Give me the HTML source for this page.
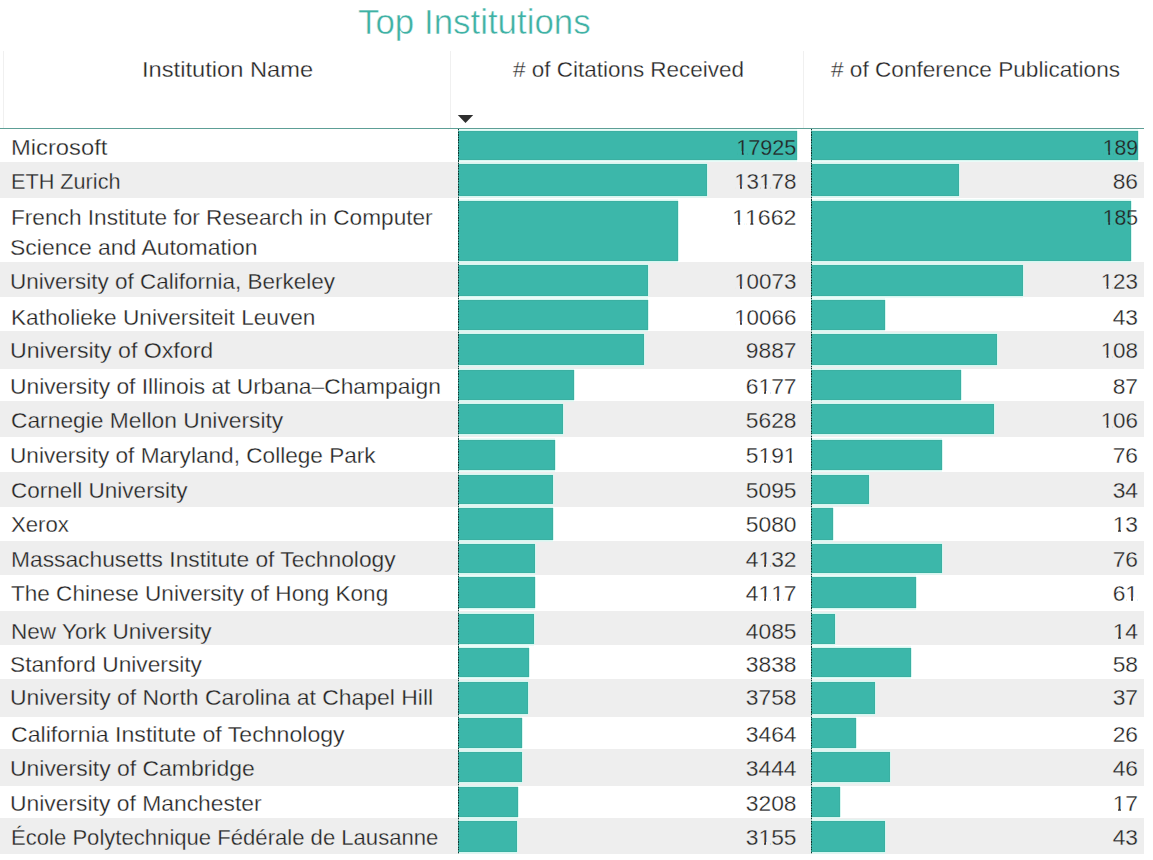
<!DOCTYPE html>
<html><head><meta charset="utf-8"><style>
html,body{margin:0;padding:0;background:#fff;}
body{width:1153px;height:860px;position:relative;overflow:hidden;font-family:"Liberation Sans",sans-serif;color:#232323;}
.a{position:absolute;}
.o{font-style:normal;position:relative;}
.o::before,.o::after{content:"";position:absolute;bottom:4.6px;height:4.0px;background:var(--bg);}
.o::before{left:1.2px;width:4.35px;}
.o::after{left:7.95px;width:4.1px;}
.t{position:absolute;white-space:nowrap;font-size:22.8px;line-height:22.8px;}
.row{position:absolute;left:0;width:1144px;}
.g{background:#eeeeee;}
.bar{position:absolute;background:#3cb7aa;box-shadow:inset 0 1px 0 #3bb0a2,inset 0 -1px 0 #3bb0a2,inset -1px 0 0 #3bb0a2,0 -1.5px 0 #d6f7f1,0 1.5px 0 #d6f7f1,1px 0 0 #d6f7f1;}
.vl{position:absolute;width:1px;background:#f0f0f0;top:51px;height:77px;}
.ax{position:absolute;width:1px;top:129px;height:724.5px;background:repeating-linear-gradient(to bottom,#0d3a33 0,#0d3a33 1.3px,rgba(10,50,45,0.3) 1.3px,rgba(10,50,45,0.3) 2.6px);}
</style></head><body>

<div class="t" id="title" style="left:358.28px;top:4.69px;font-size:34.5px;line-height:34.5px;color:#3fb1a4;-webkit-text-stroke:0.5px #fff;transform-origin:0 0;transform:scaleX(1.0111)">Top Institutions</div>
<div class="vl" style="left:3px"></div>
<div class="vl" style="left:450px"></div>
<div class="vl" style="left:803px"></div>
<div class="t" id="h1" style="-webkit-text-stroke:0.3px #fff;left:141.81px;top:57.60px;transform-origin:0 0;transform:scaleX(1.0385)">Institution Name</div>
<div class="t" id="h2" style="-webkit-text-stroke:0.3px #fff;left:512.57px;top:57.60px;transform-origin:0 0;transform:scaleX(0.9854)"># of Citations Received</div>
<div class="t" id="h3" style="-webkit-text-stroke:0.3px #fff;left:830.65px;top:57.60px;transform-origin:0 0;transform:scaleX(0.9917)"># of Conference Publications</div>
<svg class="a" style="left:0;top:0" width="1153" height="140"><polygon points="457.8,115 473.2,115 465.5,123" fill="#2e2e2e"/></svg>
<div class="a" style="left:0;top:128px;width:1144px;height:1px;background:#5d9f96"></div>
<div class="row" style="top:129px;height:33px"></div>
<div class="row g" style="top:162px;height:36px"></div>
<div class="row" style="top:198px;height:64px"></div>
<div class="row g" style="top:262px;height:35px"></div>
<div class="row" style="top:297px;height:34px"></div>
<div class="row g" style="top:331px;height:37.5px"></div>
<div class="row" style="top:368.5px;height:32.5px"></div>
<div class="row g" style="top:401px;height:35.5px"></div>
<div class="row" style="top:436.5px;height:35.5px"></div>
<div class="row g" style="top:472px;height:34.5px"></div>
<div class="row" style="top:506.5px;height:34.5px"></div>
<div class="row g" style="top:541px;height:34px"></div>
<div class="row" style="top:575px;height:36px"></div>
<div class="row g" style="top:611px;height:34px"></div>
<div class="row" style="top:645px;height:34px"></div>
<div class="row g" style="top:679px;height:37.5px"></div>
<div class="row" style="top:716.5px;height:32.5px"></div>
<div class="row g" style="top:749px;height:36.5px"></div>
<div class="row" style="top:785.5px;height:32.5px"></div>
<div class="row g" style="top:818px;height:35.5px"></div>
<div class="bar" style="left:458px;top:131px;width:339.00px;height:29px"></div>
<div class="bar" style="left:811px;top:131px;width:326.70px;height:29px"></div>
<div class="bar" style="left:458px;top:164px;width:248.85px;height:32px"></div>
<div class="bar" style="left:811px;top:164px;width:148.38px;height:32px"></div>
<div class="bar" style="left:458px;top:201px;width:220.06px;height:60px"></div>
<div class="bar" style="left:811px;top:201px;width:319.78px;height:60px"></div>
<div class="bar" style="left:458px;top:265px;width:189.89px;height:31px"></div>
<div class="bar" style="left:811px;top:265px;width:212.44px;height:31px"></div>
<div class="bar" style="left:458px;top:300px;width:189.76px;height:29.5px"></div>
<div class="bar" style="left:811px;top:300px;width:73.94px;height:29.5px"></div>
<div class="bar" style="left:458px;top:334px;width:186.36px;height:31px"></div>
<div class="bar" style="left:811px;top:334px;width:186.47px;height:31px"></div>
<div class="bar" style="left:458px;top:370px;width:115.90px;height:29.5px"></div>
<div class="bar" style="left:811px;top:370px;width:150.12px;height:29.5px"></div>
<div class="bar" style="left:458px;top:404px;width:105.48px;height:30px"></div>
<div class="bar" style="left:811px;top:404px;width:183.01px;height:30px"></div>
<div class="bar" style="left:458px;top:440px;width:97.18px;height:30px"></div>
<div class="bar" style="left:811px;top:440px;width:131.07px;height:30px"></div>
<div class="bar" style="left:458px;top:475px;width:95.36px;height:29px"></div>
<div class="bar" style="left:811px;top:475px;width:58.36px;height:29px"></div>
<div class="bar" style="left:458px;top:508px;width:95.07px;height:31.5px"></div>
<div class="bar" style="left:811px;top:508px;width:22.01px;height:31.5px"></div>
<div class="bar" style="left:458px;top:544px;width:77.07px;height:29px"></div>
<div class="bar" style="left:811px;top:544px;width:131.07px;height:29px"></div>
<div class="bar" style="left:458px;top:577px;width:76.78px;height:31px"></div>
<div class="bar" style="left:811px;top:577px;width:105.10px;height:31px"></div>
<div class="bar" style="left:458px;top:614px;width:76.18px;height:30px"></div>
<div class="bar" style="left:811px;top:614px;width:23.74px;height:30px"></div>
<div class="bar" style="left:458px;top:648px;width:71.48px;height:29px"></div>
<div class="bar" style="left:811px;top:648px;width:99.91px;height:29px"></div>
<div class="bar" style="left:458px;top:682px;width:69.97px;height:31.5px"></div>
<div class="bar" style="left:811px;top:682px;width:63.56px;height:31.5px"></div>
<div class="bar" style="left:458px;top:718px;width:64.38px;height:29.5px"></div>
<div class="bar" style="left:811px;top:718px;width:44.51px;height:29.5px"></div>
<div class="bar" style="left:458px;top:752px;width:64.00px;height:30px"></div>
<div class="bar" style="left:811px;top:752px;width:79.14px;height:30px"></div>
<div class="bar" style="left:458px;top:787px;width:59.52px;height:29.5px"></div>
<div class="bar" style="left:811px;top:787px;width:28.93px;height:29.5px"></div>
<div class="bar" style="left:458px;top:821px;width:58.51px;height:31px"></div>
<div class="bar" style="left:811px;top:821px;width:73.94px;height:31px"></div>
<div class="ax" style="left:458px"></div><div class="ax" style="left:811px"></div>
<div class="t" id="n0_0" style="-webkit-text-stroke:0.3px #fff;left:10.92px;top:135.70px;transform-origin:0 0;transform:scaleX(1.0422)">Microsoft</div>
<div class="t" id="c0" style="--bg:#3cb7aa;-webkit-text-stroke:0.3px #3cb7aa;right:356.5px;top:135.70px;transform-origin:100% 0;transform:scaleX(0.9504)"><i class="o">1</i>7925</div>
<div class="t" id="p0" style="--bg:#3cb7aa;-webkit-text-stroke:0.3px #3cb7aa;right:15.0px;top:135.70px;transform-origin:100% 0;transform:scaleX(0.9297)"><i class="o">1</i>89</div>
<div class="t" id="n1_0" style="-webkit-text-stroke:0.3px #eeeeee;left:10.70px;top:169.50px;transform-origin:0 0;transform:scaleX(0.9500)">ETH Zurich</div>
<div class="t" id="c1" style="--bg:#eeeeee;-webkit-text-stroke:0.3px #eeeeee;right:356.5px;top:169.50px;transform-origin:100% 0;transform:scaleX(0.9818)"><i class="o">1</i>3<i class="o">1</i>78</div>
<div class="t" id="p1" style="--bg:#eeeeee;-webkit-text-stroke:0.3px #eeeeee;right:15.0px;top:169.50px;transform-origin:100% 0;transform:scaleX(1.0000)">86</div>
<div class="t" id="n2_0" style="-webkit-text-stroke:0.3px #fff;left:10.61px;top:206.40px;transform-origin:0 0;transform:scaleX(0.9934)">French Institute for Research in Computer</div>
<div class="t" id="n2_1" style="-webkit-text-stroke:0.3px #fff;left:9.59px;top:235.80px;transform-origin:0 0;transform:scaleX(1.0066)">Science and Automation</div>
<div class="t" id="c2" style="--bg:#fff;-webkit-text-stroke:0.3px #fff;right:356.5px;top:206.40px;transform-origin:100% 0;transform:scaleX(1.0154)"><i class="o">1</i><i class="o">1</i>662</div>
<div class="a" style="left:0;top:0;width:1153px;height:860px;clip-path:inset(0 22.22px 0 0)"><div class="t" style="--bg:#3cb7aa;-webkit-text-stroke:0.3px #3cb7aa;right:15.0px;top:206.40px;transform-origin:100% 0;transform:scaleX(0.9297)"><i class="o">1</i>85</div></div>
<div class="a" style="left:0;top:0;width:1153px;height:860px;clip-path:inset(0 0 0 1130.78px)"><div class="t" id="p2" style="--bg:#fff;-webkit-text-stroke:0.3px #fff;right:15.0px;top:206.40px;transform-origin:100% 0;transform:scaleX(0.9297)"><i class="o">1</i>85</div></div>
<div class="t" id="n3_0" style="-webkit-text-stroke:0.3px #eeeeee;left:10.03px;top:270.30px;transform-origin:0 0;transform:scaleX(0.9865)">University of California, Berkeley</div>
<div class="t" id="c3" style="--bg:#eeeeee;-webkit-text-stroke:0.3px #eeeeee;right:356.5px;top:270.30px;transform-origin:100% 0;transform:scaleX(0.9818)"><i class="o">1</i>0073</div>
<div class="t" id="p3" style="--bg:#eeeeee;-webkit-text-stroke:0.3px #eeeeee;right:15.0px;top:270.30px;transform-origin:100% 0;transform:scaleX(0.9829)"><i class="o">1</i>23</div>
<div class="t" id="n4_0" style="-webkit-text-stroke:0.3px #fff;left:10.61px;top:305.80px;transform-origin:0 0;transform:scaleX(0.9927)">Katholieke Universiteit Leuven</div>
<div class="t" id="c4" style="--bg:#fff;-webkit-text-stroke:0.3px #fff;right:356.5px;top:305.80px;transform-origin:100% 0;transform:scaleX(0.9818)"><i class="o">1</i>0066</div>
<div class="t" id="p4" style="--bg:#fff;-webkit-text-stroke:0.3px #fff;right:15.0px;top:305.80px;transform-origin:100% 0;transform:scaleX(1.0000)">43</div>
<div class="t" id="n5_0" style="-webkit-text-stroke:0.3px #eeeeee;left:9.97px;top:339.30px;transform-origin:0 0;transform:scaleX(1.0152)">University of Oxford</div>
<div class="t" id="c5" style="--bg:#eeeeee;-webkit-text-stroke:0.3px #eeeeee;right:356.5px;top:339.30px;transform-origin:100% 0;transform:scaleX(1.0000)">9887</div>
<div class="t" id="p5" style="--bg:#eeeeee;-webkit-text-stroke:0.3px #eeeeee;right:15.0px;top:339.30px;transform-origin:100% 0;transform:scaleX(0.9829)"><i class="o">1</i>08</div>
<div class="t" id="n6_0" style="-webkit-text-stroke:0.3px #fff;left:10.00px;top:375.20px;transform-origin:0 0;transform:scaleX(1.0000)">University of Illinois at Urbana–Champaign</div>
<div class="t" id="c6" style="--bg:#fff;-webkit-text-stroke:0.3px #fff;right:356.5px;top:375.20px;transform-origin:100% 0;transform:scaleX(1.0000)">6<i class="o">1</i>77</div>
<div class="t" id="p6" style="--bg:#fff;-webkit-text-stroke:0.3px #fff;right:15.0px;top:375.20px;transform-origin:100% 0;transform:scaleX(1.0000)">87</div>
<div class="t" id="n7_0" style="-webkit-text-stroke:0.3px #eeeeee;left:10.60px;top:409.10px;transform-origin:0 0;transform:scaleX(0.9993)">Carnegie Mellon University</div>
<div class="t" id="c7" style="--bg:#eeeeee;-webkit-text-stroke:0.3px #eeeeee;right:356.5px;top:409.10px;transform-origin:100% 0;transform:scaleX(1.0000)">5628</div>
<div class="t" id="p7" style="--bg:#eeeeee;-webkit-text-stroke:0.3px #eeeeee;right:15.0px;top:409.10px;transform-origin:100% 0;transform:scaleX(0.9829)"><i class="o">1</i>06</div>
<div class="t" id="n8_0" style="-webkit-text-stroke:0.3px #fff;left:10.02px;top:444.30px;transform-origin:0 0;transform:scaleX(0.9918)">University of Maryland, College Park</div>
<div class="t" id="c8" style="--bg:#fff;-webkit-text-stroke:0.3px #fff;right:356.5px;top:444.30px;transform-origin:100% 0;transform:scaleX(1.0000)">5<i class="o">1</i>9<i class="o">1</i></div>
<div class="t" id="p8" style="--bg:#fff;-webkit-text-stroke:0.3px #fff;right:15.0px;top:444.30px;transform-origin:100% 0;transform:scaleX(1.0000)">76</div>
<div class="t" id="n9_0" style="-webkit-text-stroke:0.3px #eeeeee;left:10.61px;top:479.40px;transform-origin:0 0;transform:scaleX(0.9876)">Cornell University</div>
<div class="t" id="c9" style="--bg:#eeeeee;-webkit-text-stroke:0.3px #eeeeee;right:356.5px;top:479.40px;transform-origin:100% 0;transform:scaleX(1.0000)">5095</div>
<div class="t" id="p9" style="--bg:#eeeeee;-webkit-text-stroke:0.3px #eeeeee;right:15.0px;top:479.40px;transform-origin:100% 0;transform:scaleX(1.0000)">34</div>
<div class="t" id="n10_0" style="-webkit-text-stroke:0.3px #fff;left:10.63px;top:513.20px;transform-origin:0 0;transform:scaleX(0.9726)">Xerox</div>
<div class="t" id="c10" style="--bg:#fff;-webkit-text-stroke:0.3px #fff;right:356.5px;top:513.20px;transform-origin:100% 0;transform:scaleX(1.0000)">5080</div>
<div class="t" id="p10" style="--bg:#fff;-webkit-text-stroke:0.3px #fff;right:15.0px;top:513.20px;transform-origin:100% 0;transform:scaleX(1.0000)"><i class="o">1</i>3</div>
<div class="t" id="n11_0" style="-webkit-text-stroke:0.3px #eeeeee;left:10.60px;top:548.40px;transform-origin:0 0;transform:scaleX(0.9995)">Massachusetts Institute of Technology</div>
<div class="t" id="c11" style="--bg:#eeeeee;-webkit-text-stroke:0.3px #eeeeee;right:356.5px;top:548.40px;transform-origin:100% 0;transform:scaleX(1.0000)">4<i class="o">1</i>32</div>
<div class="t" id="p11" style="--bg:#eeeeee;-webkit-text-stroke:0.3px #eeeeee;right:15.0px;top:548.40px;transform-origin:100% 0;transform:scaleX(1.0000)">76</div>
<div class="t" id="n12_0" style="-webkit-text-stroke:0.3px #fff;left:10.61px;top:581.90px;transform-origin:0 0;transform:scaleX(0.9889)">The Chinese University of Hong Kong</div>
<div class="t" id="c12" style="--bg:#fff;-webkit-text-stroke:0.3px #fff;right:356.5px;top:581.90px;transform-origin:100% 0;transform:scaleX(1.0000)">4<i class="o">1</i><i class="o">1</i>7</div>
<div class="t" id="p12" style="--bg:#fff;-webkit-text-stroke:0.3px #fff;right:15.0px;top:581.90px;transform-origin:100% 0;transform:scaleX(1.0000)">6<i class="o">1</i></div>
<div class="t" id="n13_0" style="-webkit-text-stroke:0.3px #eeeeee;left:10.62px;top:619.50px;transform-origin:0 0;transform:scaleX(0.9890)">New York University</div>
<div class="t" id="c13" style="--bg:#eeeeee;-webkit-text-stroke:0.3px #eeeeee;right:356.5px;top:619.50px;transform-origin:100% 0;transform:scaleX(1.0000)">4085</div>
<div class="t" id="p13" style="--bg:#eeeeee;-webkit-text-stroke:0.3px #eeeeee;right:15.0px;top:619.50px;transform-origin:100% 0;transform:scaleX(1.0000)"><i class="o">1</i>4</div>
<div class="t" id="n14_0" style="-webkit-text-stroke:0.3px #fff;left:9.60px;top:653.40px;transform-origin:0 0;transform:scaleX(0.9969)">Stanford University</div>
<div class="t" id="c14" style="--bg:#fff;-webkit-text-stroke:0.3px #fff;right:356.5px;top:653.40px;transform-origin:100% 0;transform:scaleX(1.0000)">3838</div>
<div class="t" id="p14" style="--bg:#fff;-webkit-text-stroke:0.3px #fff;right:15.0px;top:653.40px;transform-origin:100% 0;transform:scaleX(1.0000)">58</div>
<div class="t" id="n15_0" style="-webkit-text-stroke:0.3px #eeeeee;left:9.99px;top:686.00px;transform-origin:0 0;transform:scaleX(1.0058)">University of North Carolina at Chapel Hill</div>
<div class="t" id="c15" style="--bg:#eeeeee;-webkit-text-stroke:0.3px #eeeeee;right:356.5px;top:686.00px;transform-origin:100% 0;transform:scaleX(1.0000)">3758</div>
<div class="t" id="p15" style="--bg:#eeeeee;-webkit-text-stroke:0.3px #eeeeee;right:15.0px;top:686.00px;transform-origin:100% 0;transform:scaleX(1.0000)">37</div>
<div class="t" id="n16_0" style="-webkit-text-stroke:0.3px #fff;left:10.59px;top:723.20px;transform-origin:0 0;transform:scaleX(1.0140)">California Institute of Technology</div>
<div class="t" id="c16" style="--bg:#fff;-webkit-text-stroke:0.3px #fff;right:356.5px;top:723.20px;transform-origin:100% 0;transform:scaleX(1.0000)">3464</div>
<div class="t" id="p16" style="--bg:#fff;-webkit-text-stroke:0.3px #fff;right:15.0px;top:723.20px;transform-origin:100% 0;transform:scaleX(1.0000)">26</div>
<div class="t" id="n17_0" style="-webkit-text-stroke:0.3px #eeeeee;left:9.99px;top:757.30px;transform-origin:0 0;transform:scaleX(1.0058)">University of Cambridge</div>
<div class="t" id="c17" style="--bg:#eeeeee;-webkit-text-stroke:0.3px #eeeeee;right:356.5px;top:757.30px;transform-origin:100% 0;transform:scaleX(1.0000)">3444</div>
<div class="t" id="p17" style="--bg:#eeeeee;-webkit-text-stroke:0.3px #eeeeee;right:15.0px;top:757.30px;transform-origin:100% 0;transform:scaleX(1.0000)">46</div>
<div class="t" id="n18_0" style="-webkit-text-stroke:0.3px #fff;left:9.99px;top:792.20px;transform-origin:0 0;transform:scaleX(1.0032)">University of Manchester</div>
<div class="t" id="c18" style="--bg:#fff;-webkit-text-stroke:0.3px #fff;right:356.5px;top:792.20px;transform-origin:100% 0;transform:scaleX(1.0000)">3208</div>
<div class="t" id="p18" style="--bg:#fff;-webkit-text-stroke:0.3px #fff;right:15.0px;top:792.20px;transform-origin:100% 0;transform:scaleX(1.0000)"><i class="o">1</i>7</div>
<div class="t" id="n19_0" style="-webkit-text-stroke:0.3px #eeeeee;left:10.66px;top:826.20px;transform-origin:0 0;transform:scaleX(0.9689)">École Polytechnique Fédérale de Lausanne</div>
<div class="t" id="c19" style="--bg:#eeeeee;-webkit-text-stroke:0.3px #eeeeee;right:356.5px;top:826.20px;transform-origin:100% 0;transform:scaleX(1.0000)">3<i class="o">1</i>55</div>
<div class="t" id="p19" style="--bg:#eeeeee;-webkit-text-stroke:0.3px #eeeeee;right:15.0px;top:826.20px;transform-origin:100% 0;transform:scaleX(1.0000)">43</div>
</body></html>
